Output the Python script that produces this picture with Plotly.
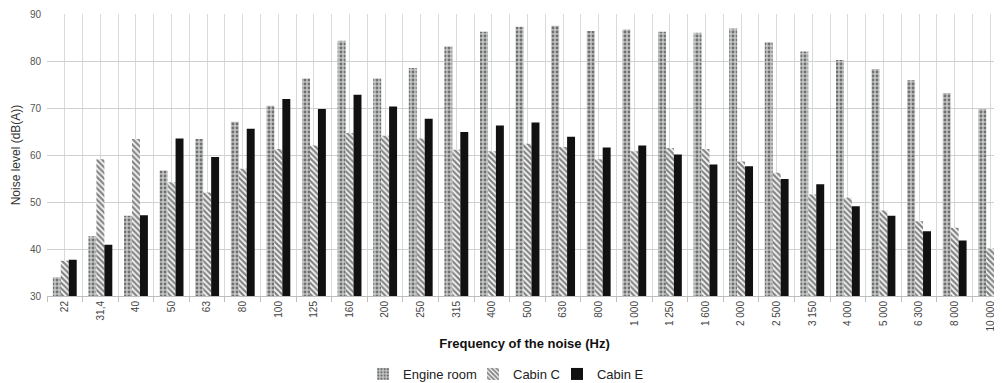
import plotly.graph_objects as go

categories = ["22", "31,4", "40", "50", "63", "80", "100", "125", "160", "200", "250", "315",
              "400", "500", "630", "800", "1 000", "1 250", "1 600", "2 000", "2 500", "3 150",
              "4 000", "5 000", "6 300", "8 000", "10 000"]

engine_room = [34.0, 42.7, 47.1, 56.7, 63.4, 67.1, 70.5, 76.3, 84.3, 76.3, 78.5, 83.1,
               86.2, 87.3, 87.5, 86.4, 86.7, 86.2, 86.0, 86.9, 84.0, 82.0,
               80.2, 78.3, 75.9, 73.2, 69.8]
cabin_c = [37.5, 59.1, 63.4, 54.2, 52.0, 57.1, 61.3, 62.0, 64.7, 64.1, 63.5, 61.1,
           60.8, 62.4, 61.7, 59.1, 60.8, 61.5, 61.3, 58.6, 56.2, 51.6,
           50.9, 48.2, 45.9, 44.5, 40.1]
cabin_e = [37.7, 40.9, 47.2, 63.5, 59.6, 65.6, 71.9, 69.8, 72.8, 70.3, 67.7, 64.9,
           66.3, 66.9, 63.9, 61.6, 62.0, 60.1, 58.0, 57.6, 54.9, 53.8,
           49.1, 47.1, 43.8, 41.8, 36.7]

y_ticks = [30, 40, 50, 60, 70, 80, 90]

xpos = list(range(len(categories)))
FONT = "Liberation Sans"

fig = go.Figure()
fig.add_trace(go.Bar(
    x=xpos, y=engine_room, name="Engine room", legend="legend",
    marker=dict(color="#c4c7c6", line=dict(width=0),
                pattern=dict(shape=".", fgcolor="#1a1a1a", size=4, solidity=0.42)),
))
fig.add_trace(go.Bar(
    x=xpos, y=cabin_c, name="Cabin C", legend="legend2",
    marker=dict(color="#ffffff", line=dict(width=0),
                pattern=dict(shape="\\", fgcolor="#0d0d0d", size=4, solidity=0.6)),
))
fig.add_trace(go.Bar(
    x=xpos, y=cabin_e, name="Cabin E", legend="legend3",
    marker=dict(color="#111111", line=dict(width=0)),
))

legend_common = dict(orientation="h", xref="container", yref="container",
                     xanchor="left", y=0.024, yanchor="middle",
                     font=dict(size=13, color="#222222"),
                     itemwidth=30, itemsizing="constant", bgcolor="rgba(0,0,0,0)")

# the page body has an 8px default margin, so the figure is sized to fit the window
fig.update_layout(
    width=994, height=375,
    margin=dict(l=39, r=0, t=6, b=87),
    paper_bgcolor="white", plot_bgcolor="white",
    barmode="group", bargap=0.33, bargroupgap=0,
    font=dict(family=FONT, color="#333333"),
    showlegend=True,
    legend=dict(x=0.3572, **legend_common),
    legend2=dict(x=0.4678, **legend_common),
    legend3=dict(x=0.5523, **legend_common),
    xaxis=dict(
        range=[-0.5, 26.33], automargin=False,
        tickmode="array", tickvals=xpos, ticktext=categories,
        tickangle=-90, tickfont=dict(size=10, color="#444444", family=FONT),
        ticklabeloverflow="allow",
        showgrid=True, gridcolor="#d9d9d9", gridwidth=1,
        showline=True, linecolor="#bfbfbf", linewidth=1,
        ticks="", zeroline=False,
        minor=dict(tick0=-0.5, dtick=1, showgrid=True, gridcolor="#d9d9d9",
                   ticks="outside", ticklen=5, tickcolor="#bfbfbf"),
        title=dict(text="<b>Frequency of the noise (Hz)</b>",
                   font=dict(size=13, color="#111111", family=FONT), standoff=8),
    ),
    yaxis=dict(
        range=[30, 90], tickmode="array", tickvals=y_ticks, automargin=False,
        tickfont=dict(size=10, color="#555555", family=FONT),
        ticklabelstandoff=5,
        showgrid=True, gridcolor="#d0d0d0", gridwidth=1,
        zeroline=False, showline=False, ticks="",
        title=dict(text="Noise level (dB(A))", font=dict(size=12, color="#333333", family=FONT),
                   standoff=6),
    ),
)

fig.write_html("out.html")
